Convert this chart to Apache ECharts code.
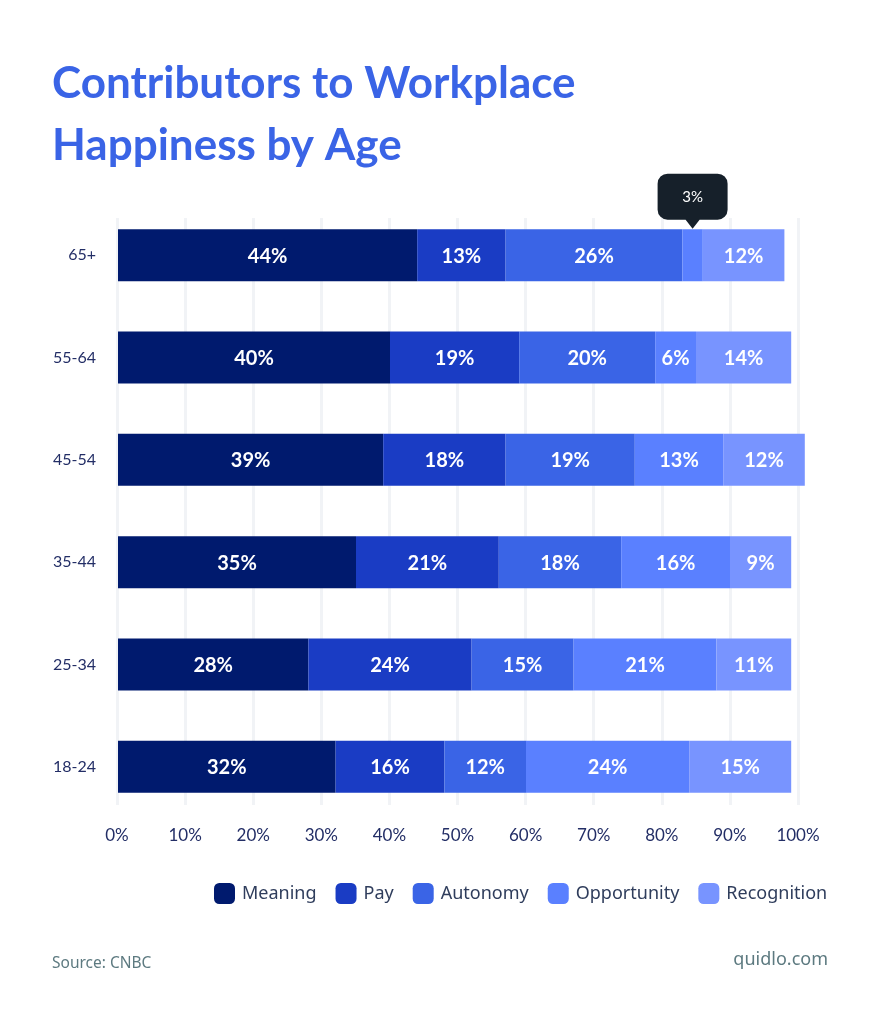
<!DOCTYPE html>
<html>
<head>
<meta charset="utf-8">
<style>html,body{margin:0;background:#fff}#chart{width:880px;height:1024px}</style>
<script src="https://cdn.jsdelivr.net/npm/echarts@6/dist/echarts.min.js"></script>
</head>
<body>
<div id="chart"></div>
<script>
var ages = ['18-24', '25-34', '35-44', '45-54', '55-64', '65+'];
var meaning = [32, 28, 35, 39, 40, 44];
var pay = [16, 24, 21, 18, 19, 13];
var autonomy = [12, 15, 18, 19, 20, 26];
var opportunity = [24, 21, 16, 13, 6, 3];
var recognition = [15, 11, 9, 12, 14, 12];
var xTicks = [0, 100, 10];

var names = ['Meaning', 'Pay', 'Autonomy', 'Opportunity', 'Recognition'];
var values = [meaning, pay, autonomy, opportunity, recognition];
var colors = ['#001a6e', '#1a3cc4', '#3a64e6', '#5a80ff', '#7894ff'];
var font = 'Lato';

var series = names.map(function (name, i) {
    return {
        name: name,
        type: 'bar',
        stack: 'all',
        xAxisIndex: 0,
        yAxisIndex: 0,
        barWidth: 52,
        clip: false,
        itemStyle: { color: colors[i] },
        label: {
            show: true,
            color: '#fff',
            fontFamily: font,
            fontSize: 20,
            fontWeight: 'bold',
            offset: [0, 1],
            // the 3% slice is labelled by the callout instead
            formatter: function (p) { return p.value < 5 ? '' : p.value + '%'; }
        },
        data: values[i]
    };
});

// callout over the small slice in the top row
series[3].markPoint = {
    symbol: 'path://M10 0H60A10 10 0 0 1 70 10V36A10 10 0 0 1 60 46H42L35 55L28 46H10A10 10 0 0 1 0 36V10A10 10 0 0 1 10 0Z',
    symbolSize: [70, 55],
    symbolOffset: [0, -54],
    itemStyle: { color: '#16202a' },
    label: {
        show: true,
        position: 'inside',
        offset: [0, -4],
        color: '#fff',
        fontFamily: font,
        fontSize: 15,
        formatter: function (p) { return p.value + '%'; }
    },
    data: [{ coord: [meaning[5] + pay[5] + autonomy[5] + opportunity[5] / 2, '65+'], value: opportunity[5] }]
};

var option = {
    backgroundColor: '#fff',
    animation: false,
    title: [{
        text: 'Contributors to Workplace\nHappiness by Age',
        left: 47,
        top: 48,
        textStyle: { color: '#3a64e6', fontFamily: font, fontSize: 44, fontWeight: 'bold', lineHeight: 62 }
    }, {
        text: 'Source: CNBC',
        left: 47,
        top: 951,
        textStyle: { color: '#5d7a80', fontFamily: 'Noto Sans', fontSize: 15.5, fontWeight: 'normal' }
    }, {
        text: 'quidlo.com',
        right: 47,
        top: 946,
        textStyle: { color: '#5d7a80', fontFamily: 'Noto Sans', fontSize: 18, fontWeight: 'normal' }
    }],
    legend: {
        left: 209,
        top: 878,
        itemWidth: 21,
        itemHeight: 21,
        itemGap: 19,
        icon: 'roundRect',
        textStyle: { color: '#2f3d5c', fontFamily: 'Noto Sans', fontSize: 18, padding: [0, 0, 0, 2] }
    },
    grid: [
        { left: 118, right: 82, top: 204, height: 614 },
        { left: 117, right: 82, top: 218, height: 587 }
    ],
    xAxis: [{
        gridIndex: 0,
        type: 'value',
        min: xTicks[0],
        max: xTicks[1],
        show: false
    }, {
        gridIndex: 1,
        type: 'value',
        min: xTicks[0],
        max: xTicks[1],
        interval: xTicks[2],
        axisLine: { show: false },
        axisTick: { show: false },
        axisLabel: {
            formatter: '{value}%',
            color: '#232e66',
            fontFamily: font,
            fontSize: 17,
            margin: 22
        },
        splitLine: { show: true, lineStyle: { color: '#f1f3f6', width: 3 } }
    }],
    yAxis: [{
        gridIndex: 0,
        type: 'category',
        data: ages,
        axisLine: { show: false },
        axisTick: { show: false },
        axisLabel: { color: '#232e66', fontFamily: font, fontSize: 16, margin: 22 }
    }, {
        gridIndex: 1,
        type: 'value',
        show: false
    }],
    series: series
};
var chart = echarts.init(document.getElementById('chart'));
chart.setOption(option);
</script>
</body>
</html>
